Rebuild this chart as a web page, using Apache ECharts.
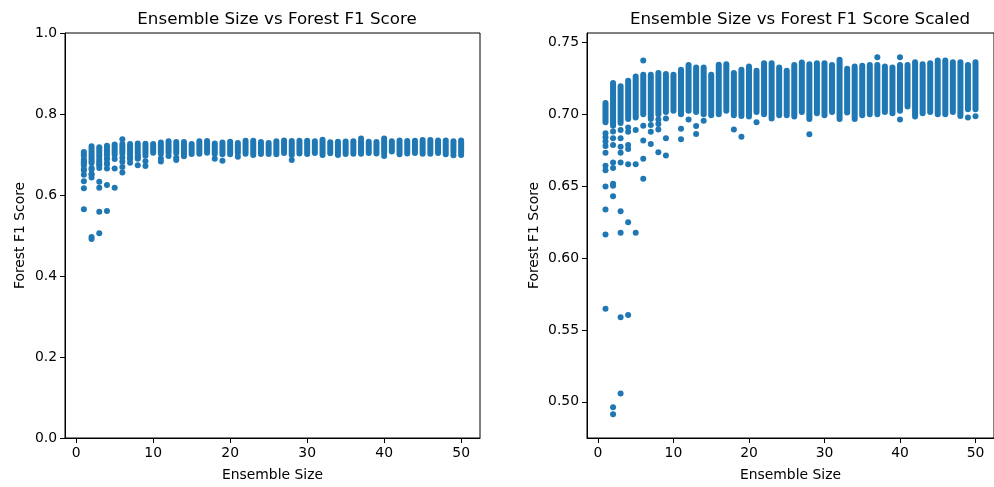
<!DOCTYPE html>
<html>
<head>
<meta charset="utf-8">
<script src="https://cdn.jsdelivr.net/npm/echarts@6/dist/echarts.min.js"></script>
<style>
  html, body { margin: 0; padding: 0; background: #fff; }
  #chart { width: 994px; height: 487px; }
</style>
</head>
<body>
<div id="chart"></div>
<script>
// ensemble sizes on the x axis
const sizes = [1, 2, 3, 4, 5, 6, 7, 8, 9, 10,
  11, 12, 13, 14, 15, 16, 17, 18, 19, 20,
  21, 22, 23, 24, 25, 26, 27, 28, 29, 30,
  31, 32, 33, 34, 35, 36, 37, 38, 39, 40,
  41, 42, 43, 44, 45, 46, 47, 48, 49, 50]

// dense run of F1 scores per ensemble size: lowest and highest of the packed column
const bandLow = [0.6938, 0.6915, 0.6933, 0.6961, 0.6972, 0.6995, 0.6961, 0.6995, 0.7011, 0.7018,
  0.6995, 0.7018, 0.7011, 0.6995, 0.6988, 0.6995, 0.7018, 0.6988, 0.6983, 0.6979,
  0.7011, 0.6995, 0.6965, 0.6988, 0.6988, 0.6979, 0.7011, 0.6961, 0.7002, 0.6988,
  0.7011, 0.6961, 0.7007, 0.6961, 0.6988, 0.6995, 0.6995, 0.7011, 0.7002, 0.7018,
  0.7049, 0.6979, 0.7002, 0.7011, 0.6995, 0.6995, 0.7011, 0.6983, 0.7030, 0.7030]
const bandHigh = [0.7087, 0.7226, 0.7203, 0.7242, 0.7271, 0.7283, 0.7283, 0.7295, 0.7288, 0.7283,
  0.7318, 0.7352, 0.7334, 0.7334, 0.7283, 0.7353, 0.7357, 0.7295, 0.7318, 0.7341,
  0.7311, 0.7364, 0.7364, 0.7334, 0.7311, 0.7352, 0.7369, 0.7357, 0.7364, 0.7364,
  0.7352, 0.7387, 0.7325, 0.7341, 0.7346, 0.7352, 0.7352, 0.7341, 0.7334, 0.7352,
  0.7352, 0.7371, 0.7357, 0.7364, 0.7383, 0.7383, 0.7371, 0.7371, 0.7352, 0.7371]

// single points lying apart from the dense run
const outlierSize = [
  1, 1, 1, 1, 1, 1, 1, 1, 1, 1, 1,
  2, 2, 2, 2, 2, 2, 2, 2, 2, 2,
  3, 3, 3, 3, 3, 3, 3, 3, 3,
  4, 4, 4, 4, 4, 4, 4,
  5, 5, 5,
  6, 6, 6, 6, 6,
  7, 7, 7,
  8, 8, 8, 8,
  9, 9, 9,
  11, 11, 12, 13, 13, 14, 18, 19, 21, 28, 37, 40, 40, 49, 50]
const outlierScore = [
  0.6869, 0.6841, 0.6811, 0.6781, 0.6734, 0.6643, 0.6611, 0.6499, 0.6338, 0.6165, 0.5647,
  0.6881, 0.6834, 0.6788, 0.6665, 0.6627, 0.6518, 0.6504, 0.6430, 0.4962, 0.4914,
  0.6891, 0.6834, 0.6776, 0.6734, 0.6665, 0.6327, 0.6177, 0.5589, 0.5057,
  0.6910, 0.6880, 0.6788, 0.6760, 0.6654, 0.6250, 0.5605,
  0.6891, 0.6654, 0.6177,
  0.7376, 0.6921, 0.6818, 0.6691, 0.6553,
  0.6926, 0.6880, 0.6795,
  0.6965, 0.6933, 0.6896, 0.6737,
  0.6972, 0.6834, 0.6714,
  0.6900, 0.6827, 0.6965, 0.6919, 0.6864, 0.6956, 0.6896, 0.6845, 0.6945, 0.6862,
  0.7398, 0.7398, 0.6965, 0.6979, 0.6988]

const xTicks = [0, 10, 20, 30, 40, 50]
const leftYTicks = [0, 0.2, 0.4, 0.6, 0.8, 1.0]
const rightYTicks = [0.5, 0.55, 0.6, 0.65, 0.7, 0.75]

const blue = '#1f77b4'
const font = 'DejaVu Sans'

const bandData = sizes.map((s, i) => [s, bandLow[i], bandHigh[i]])
const outlierData = outlierSize.map((s, i) => [s, outlierScore[i]])

// a packed column of markers, drawn as one rounded bar of marker width
function renderBand(params, api) {
  const x = api.value(0)
  const top = api.coord([x, api.value(2)])
  const bot = api.coord([x, api.value(1)])
  return {
    type: 'rect',
    shape: { x: top[0] - 3, y: top[1] - 2, width: 6, height: bot[1] - top[1] + 4, r: 3 },
    style: { fill: blue }
  }
}

function xAxis(gridIndex) {
  return {
    type: 'value', gridIndex,
    min: -1.45, max: 52.45,
    name: 'Ensemble Size', nameLocation: 'middle', nameGap: 30,
    nameTextStyle: { color: '#000', fontFamily: font, fontSize: 13.9 },
    axisLine: { show: true, onZero: false, lineStyle: { color: '#000', width: 1 } },
    axisTick: { show: true, length: 5, lineStyle: { color: '#000' }, customValues: xTicks },
    axisLabel: { color: '#000', fontFamily: font, fontSize: 13.9, margin: 8, customValues: xTicks },
    splitLine: { show: false }
  }
}

function yAxis(gridIndex, min, max, ticks, digits, gap) {
  return {
    type: 'value', gridIndex, min, max,
    name: 'Forest F1 Score', nameLocation: 'middle', nameGap: gap, nameRotate: 90,
    nameTextStyle: { color: '#000', fontFamily: font, fontSize: 13.9 },
    axisLine: { show: true, onZero: false, lineStyle: { color: '#000', width: 1 } },
    axisTick: { show: true, length: 5, lineStyle: { color: '#000' }, customValues: ticks },
    axisLabel: {
      color: '#000', fontFamily: font, fontSize: 13.9, margin: 8, customValues: ticks,
      formatter: v => v.toFixed(digits)
    },
    splitLine: { show: false }
  }
}

const chart = echarts.init(document.getElementById('chart'), null, { renderer: 'canvas' })
chart.setOption({
  animation: false,
  backgroundColor: '#fff',
  title: [
    { text: 'Ensemble Size vs Forest F1 Score', left: 272, top: 6, textAlign: 'center',
      textStyle: { color: '#000', fontFamily: font, fontSize: 16.7, fontWeight: 'normal' } },
    { text: 'Ensemble Size vs Forest F1 Score Scaled', left: 795, top: 6, textAlign: 'center',
      textStyle: { color: '#000', fontFamily: font, fontSize: 16.7, fontWeight: 'normal' } }
  ],
  grid: [
    { left: 65, top: 33, width: 415, height: 407, show: true, borderColor: '#000', borderWidth: 1 },
    { left: 587, top: 33, width: 417, height: 407, show: true, borderColor: '#000', borderWidth: 1 }
  ],
  xAxis: [xAxis(0), xAxis(1)],
  yAxis: [
    yAxis(0, 0, 1, leftYTicks, 1, 38),
    yAxis(1, 0.4748, 0.7567, rightYTicks, 2, 46)
  ],
  series: [
    { type: 'custom', xAxisIndex: 0, yAxisIndex: 0, data: bandData, renderItem: renderBand,
      encode: { x: 0, y: [1, 2] } },
    { type: 'scatter', xAxisIndex: 0, yAxisIndex: 0, data: outlierData, symbolSize: 6,
      itemStyle: { color: blue, opacity: 1 } },
    { type: 'custom', xAxisIndex: 1, yAxisIndex: 1, data: bandData, renderItem: renderBand,
      encode: { x: 0, y: [1, 2] } },
    { type: 'scatter', xAxisIndex: 1, yAxisIndex: 1, data: outlierData, symbolSize: 6,
      itemStyle: { color: blue, opacity: 1 } }
  ]
})
</script>
</body>
</html>
